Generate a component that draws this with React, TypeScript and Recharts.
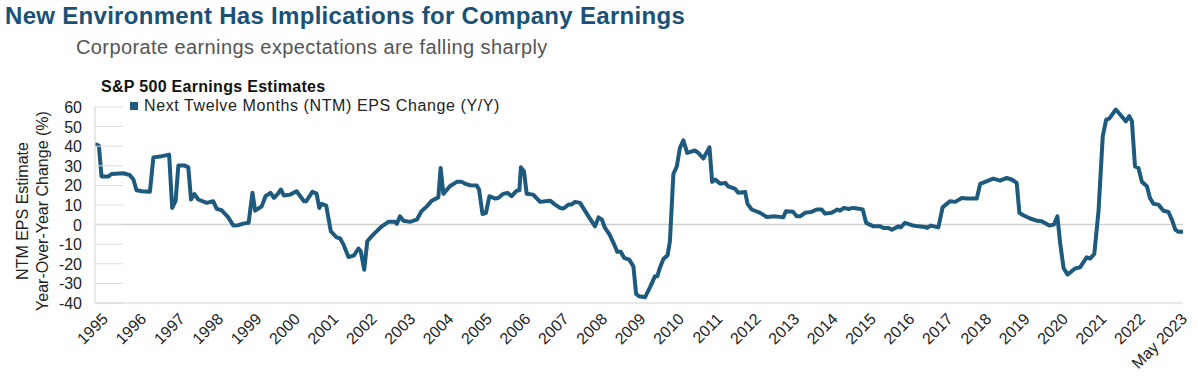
import { Line, LineChart, ReferenceLine, XAxis, YAxis } from "recharts";

// decimal year of each point
const dates = [
  1995.0, 1995.1, 1995.17, 1995.35, 1995.43, 1995.74, 1995.91, 1996.0, 1996.08, 1996.22,
  1996.43, 1996.52, 1996.69, 1996.93, 1997.01, 1997.1, 1997.17, 1997.34, 1997.43, 1997.5,
  1997.59, 1997.69, 1997.91, 1998.08, 1998.17, 1998.3, 1998.47, 1998.6, 1998.73, 1998.86,
  1999.0, 1999.1, 1999.17, 1999.34, 1999.44, 1999.57, 1999.66, 1999.76, 1999.84, 1999.92,
  2000.08, 2000.25, 2000.44, 2000.5, 2000.66, 2000.77, 2000.84, 2000.9, 2001.02, 2001.14,
  2001.29, 2001.38, 2001.47, 2001.6, 2001.74, 2001.86, 2001.92, 2002.01, 2002.09, 2002.2,
  2002.29, 2002.45, 2002.64, 2002.81, 2002.86, 2002.94, 2003.03, 2003.2, 2003.38, 2003.5,
  2003.64, 2003.77, 2003.94, 2004.0, 2004.07, 2004.24, 2004.42, 2004.55, 2004.64, 2004.77,
  2004.94, 2005.0, 2005.09, 2005.18, 2005.27, 2005.42, 2005.5, 2005.63, 2005.74, 2005.85,
  2005.98, 2006.05, 2006.09, 2006.17, 2006.24, 2006.41, 2006.59, 2006.72, 2006.85, 2006.98,
  2007.11, 2007.2, 2007.33, 2007.4, 2007.5, 2007.63, 2007.85, 2008.02, 2008.11, 2008.2,
  2008.28, 2008.39, 2008.5, 2008.6, 2008.69, 2008.78, 2008.91, 2009.02, 2009.09, 2009.17,
  2009.32, 2009.45, 2009.58, 2009.64, 2009.71, 2009.8, 2009.91, 2009.97, 2010.06, 2010.15,
  2010.23, 2010.32, 2010.42, 2010.62, 2010.71, 2010.84, 2011.0, 2011.07, 2011.15, 2011.28,
  2011.41, 2011.49, 2011.67, 2011.75, 2011.93, 2011.99, 2012.1, 2012.32, 2012.49, 2012.71,
  2012.92, 2012.99, 2013.18, 2013.27, 2013.36, 2013.49, 2013.66, 2013.79, 2013.92, 2014.01,
  2014.18, 2014.33, 2014.4, 2014.5, 2014.64, 2014.73, 2014.85, 2014.99, 2015.08, 2015.27,
  2015.45, 2015.53, 2015.66, 2015.75, 2015.92, 2015.98, 2016.09, 2016.27, 2016.44, 2016.61,
  2016.67, 2016.76, 2016.96, 2017.07, 2017.26, 2017.4, 2017.57, 2017.7, 2017.96, 2018.05,
  2018.18, 2018.39, 2018.57, 2018.74, 2018.87, 2019.0, 2019.07, 2019.17, 2019.35, 2019.52,
  2019.65, 2019.85, 2019.97, 2020.06, 2020.13, 2020.22, 2020.32, 2020.52, 2020.65, 2020.82,
  2020.91, 2021.02, 2021.13, 2021.24, 2021.33, 2021.41, 2021.58, 2021.71, 2021.84, 2021.93,
  2022.0, 2022.08, 2022.17, 2022.26, 2022.39, 2022.47, 2022.56, 2022.69, 2022.82, 2022.95,
  2023.04, 2023.13, 2023.21, 2023.33,
];

// NTM EPS change y/y (%)
const epsChange = [
  41, 40.3, 24.6, 24.6, 25.8, 26.2, 25.2, 23, 17.5, 17,
  16.7, 34.3, 34.7, 35.7, 8.5, 12.2, 30.1, 30.1, 29.2, 12.8,
  15.6, 12.8, 11.1, 11.9, 8, 7.3, 3.7, -0.5, -0.3, 0.5,
  0.9, 16.2, 7.1, 9.3, 14.5, 16.2, 13.6, 15.7, 17.9, 14.8,
  15.3, 17, 11.9, 11.9, 16.7, 15.8, 8.5, 10.6, 9.7, -3.4,
  -6.5, -7, -10.2, -16.5, -15.8, -12.2, -13.6, -23, -8.5, -6,
  -4.2, -1.2, 1.4, 1.4, 0.4, 4.2, 2.0, 1.4, 2.5, 6.8,
  9.3, 12.2, 13.9, 28.9, 15.7, 19.6, 21.8, 21.8, 20.8, 20.1,
  20, 17.9, 5.4, 6, 14.5, 13.3, 13.6, 15.7, 16.2, 14.5,
  17.3, 17.5, 29.2, 27.2, 15.7, 15.3, 11.6, 11.9, 12.2, 10.2,
  8.5, 8.2, 10.2, 10.2, 11.6, 11.1, 4.2, -0.9, 3.7, 2.5,
  -1.7, -4.8, -9.3, -13.9, -13.9, -17, -17.9, -21.3, -35.4, -36.6,
  -37.1, -32, -26.4, -26.4, -22, -17.5, -15.6, -8.5, 25.8, 29.7,
  39.1, 43, 36.6, 37.8, 36.6, 33.7, 39.4, 21.8, 23, 20.8,
  21.3, 19.5, 18.2, 16.2, 16.7, 10.6, 7.7, 6, 3.9, 4.2,
  3.7, 6.8, 6.5, 4.2, 4.2, 6, 6.5, 7.7, 7.7, 5.6,
  6, 7.7, 7.1, 8.5, 8, 8.5, 8.2, 7.7, 0.9, -0.9,
  -0.9, -1.7, -1.7, -2.6, -0.9, -1.4, 0.9, -0.3, -0.9, -1.2,
  -1.7, -0.5, -1.4, 8.8, 11.9, 11.6, 13.6, 13.3, 13.3, 20.8,
  21.8, 23.5, 22.4, 23.8, 23, 21.3, 6, 4.8, 3.1, 2,
  1.7, -0.5, 0, 4.2, -9.3, -22.1, -25.5, -22.4, -21.8, -16.7,
  -17.3, -15, 6.8, 45, 53.6, 54.1, 58.7, 55.8, 52.7, 55.3,
  52.7, 29.7, 28.9, 21.8, 19.6, 13.6, 10.6, 10.2, 7.1, 6.5,
  2.5, -2.6, -3.7, -3.7,
];

const yTicks = [60, 50, 40, 30, 20, 10, 0, -10, -20, -30, -40];
const xTickValues = [
  1995, 1996, 1997, 1998, 1999, 2000, 2001, 2002, 2003, 2004, 2005, 2006, 2007, 2008,
  2009, 2010, 2011, 2012, 2013, 2014, 2015, 2016, 2017, 2018, 2019, 2020, 2021, 2022,
  2023.33,
];
const xTickLabels = [
  "1995", "1996", "1997", "1998", "1999", "2000", "2001", "2002", "2003", "2004", "2005",
  "2006", "2007", "2008", "2009", "2010", "2011", "2012", "2013", "2014", "2015", "2016",
  "2017", "2018", "2019", "2020", "2021", "2022", "May 2023",
];

const data = dates.map((t, i) => ({ t, v: epsChange[i] }));

const FONT = '"Liberation Sans", Arial, Helvetica, sans-serif';
const LINE_COLOR = "#1d5a7e";
const TITLE_COLOR = "#1a5176";
const PLOT_LEFT = 95;

function YTick(props: any) {
  const { y, payload } = props;
  return (
    <g>
      <line x1={PLOT_LEFT} x2={PLOT_LEFT + 28} y1={y} y2={y} stroke="#dcdcdc" strokeWidth={1} />
      <text x={PLOT_LEFT - 13} y={y} dy={6} textAnchor="end" fontSize={16} fill="#222" fontFamily={FONT}>
        {payload.value}
      </text>
    </g>
  );
}

function XTick(props: any) {
  const { x, y, payload } = props;
  const idx = xTickValues.indexOf(payload.value);
  const label = xTickLabels[idx] ?? "";
  const dx = label.length > 4 ? 5 : 14;
  return (
    <text
      x={x + dx}
      y={y + 9}
      textAnchor="end"
      fontSize={16}
      fill="#222"
      fontFamily={FONT}
      transform={`rotate(-45, ${x + dx}, ${y + 9})`}
    >
      {label}
    </text>
  );
}

export default function App() {
  return (
    <div style={{ position: "absolute", left: 0, top: 0, width: 1198, height: 377, background: "#fff", fontFamily: FONT }}>
      <div style={{ position: "absolute", left: 5, top: 2, fontSize: 24, letterSpacing: 0.3, fontWeight: 700, color: TITLE_COLOR, whiteSpace: "nowrap" }}>
        New Environment Has Implications for Company Earnings
      </div>
      <div style={{ position: "absolute", left: 76, top: 36, fontSize: 20, letterSpacing: 0.4, color: "#555", whiteSpace: "nowrap" }}>
        Corporate earnings expectations are falling sharply
      </div>
      <div style={{ position: "absolute", left: 101, top: 78, fontSize: 16, letterSpacing: 0.3, fontWeight: 700, color: "#111", whiteSpace: "nowrap" }}>
        S&amp;P 500 Earnings Estimates
      </div>
      <div style={{ position: "absolute", left: 130, top: 97, fontSize: 16, letterSpacing: 0.6, color: "#222", whiteSpace: "nowrap", display: "flex", alignItems: "center" }}>
        <span style={{ display: "inline-block", width: 8, height: 8, background: LINE_COLOR, marginRight: 6 }} />
        Next Twelve Months (NTM) EPS Change (Y/Y)
      </div>
      <LineChart width={1198} height={377} data={data} margin={{ top: 107, right: 15, bottom: 44, left: 35 }}>
        <XAxis
          dataKey="t"
          type="number"
          domain={[1995, 2023.33]}
          ticks={xTickValues}
          interval={0}
          height={30}
          tick={<XTick />}
          tickLine={false}
          axisLine={{ stroke: "#d0d0d0" }}
          allowDataOverflow
        />
        <YAxis
          width={60}
          domain={[-40, 60]}
          ticks={yTicks}
          interval={0}
          tick={<YTick />}
          tickLine={false}
          axisLine={{ stroke: "#d0d0d0" }}
          label={{
            content: () => (
              <g fontFamily={FONT} fontSize={16} fill="#222">
                <text x={23} y={211} textAnchor="middle" transform="rotate(-90, 23, 211)" dy={5}>
                  NTM EPS Estimate
                </text>
                <text x={43} y={211} textAnchor="middle" transform="rotate(-90, 43, 211)" dy={5}>
                  Year-Over-Year Change (%)
                </text>
              </g>
            ),
          }}
        />
        <ReferenceLine y={0} stroke="#d0d0d0" strokeWidth={1.5} />
        <Line
          type="linear"
          dataKey="v"
          stroke={LINE_COLOR}
          strokeWidth={4}
          dot={false}
          isAnimationActive={false}
          strokeLinejoin="round"
        />
      </LineChart>
    </div>
  );
}
